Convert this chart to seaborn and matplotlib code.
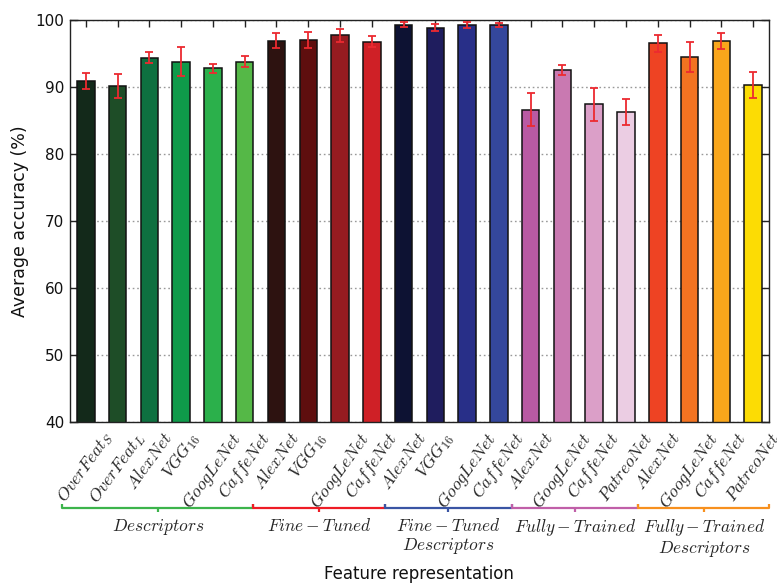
import matplotlib
matplotlib.use("Agg")
import matplotlib.pyplot as plt
import matplotlib.transforms as mtransforms
import numpy as np
import pandas as pd
import seaborn as sns

# Feature representations, in plotting order
labels = ["OverFeat_S", "OverFeat_L", "AlexNet", "VGG_{16}", "GoogLeNet", "CaffeNet",
          "AlexNet", "VGG_{16}", "GoogLeNet", "CaffeNet",
          "AlexNet", "VGG_{16}", "GoogLeNet", "CaffeNet",
          "AlexNet", "GoogLeNet", "CaffeNet", "PatreoNet",
          "AlexNet", "GoogLeNet", "CaffeNet", "PatreoNet"]

accuracy = [90.9, 90.1, 94.4, 93.8, 92.8, 93.8,
            96.9, 97.0, 97.7, 96.75,
            99.3, 98.85, 99.3, 99.25,
            86.6, 92.55, 87.4, 86.3,
            96.5, 94.5, 96.9, 90.3]

std_dev = [1.2, 1.8, 0.85, 2.1, 0.65, 0.85,
           1.1, 1.25, 1.0, 0.85,
           0.4, 0.5, 0.45, 0.3,
           2.45, 0.75, 2.5, 1.95,
           1.3, 2.2, 1.2, 1.9]

bar_colors = ["#13291a", "#1e4d27", "#0e7040", "#0f9a4a", "#2bb04b", "#55b847",
              "#2d1210", "#5e0e0e", "#961b20", "#cf2026",
              "#0d1233", "#1f1d5e", "#282f88", "#34479c",
              "#b95aa3", "#c979b1", "#db9fc8", "#ebcde3",
              "#ee4323", "#f37321", "#f9a61b", "#fcdc04"]

group_names = ["$Descriptors$", "$Fine-Tuned$", "$Fine-Tuned$\n$Descriptors$",
               "$Fully-Trained$", "$Fully-Trained$\n$Descriptors$"]
group_colors = ["#3cb44b", "#ee1c25", "#3a55a4", "#c05fa8", "#f7901e"]

sns.set_theme(style="white")
plt.rcParams["font.family"] = ["DejaVu Sans"]
plt.rcParams["mathtext.fontset"] = "cm"

df = pd.DataFrame({"key": [f"b{i}" for i in range(len(labels))],
                   "accuracy": accuracy})

fig = plt.figure(figsize=(7.77, 5.85), dpi=100)
ax = fig.add_axes([0.090, 0.2786, 0.8997, 0.6872])

sns.barplot(data=df, x="key", y="accuracy", hue="key", palette=bar_colors,
            saturation=1, legend=False, width=0.55, edgecolor="#111111",
            linewidth=1.1, errorbar=None, ax=ax, zorder=2)

centers = [p.get_x() + p.get_width() / 2 for p in ax.patches]
ax.errorbar(centers, accuracy, yerr=std_dev, fmt="none", ecolor="#ec2a30",
            elinewidth=1.3, capsize=3, capthick=1.3, zorder=3)

ax.set_ylim(40, 100)
ax.set_xlim(-0.5, len(labels) - 0.5)
ax.set_yticks(np.arange(40, 101, 10))
ax.yaxis.grid(True, linestyle=(0, (1.2, 2.0)), color="#999999", linewidth=1.0, zorder=0)
ax.xaxis.grid(False)
ax.set_axisbelow(True)

for side in ["left", "right", "top", "bottom"]:
    ax.spines[side].set_visible(True)
    ax.spines[side].set_color("#222222")
    ax.spines[side].set_linewidth(1.0)

ax.set_xticks(range(len(labels)))
ax.set_xticklabels([f"${t}$" for t in labels], rotation=54, ha="center", fontsize=12.5)
ax.tick_params(axis="x", top=True, bottom=False, direction="in", length=5,
               width=1, color="#222222", pad=5)
ax.tick_params(axis="y", left=True, right=True, direction="in", length=6,
               width=1, color="#222222", labelsize=11, pad=4, labelcolor="#111111")

ax.set_ylabel("Average accuracy (%)", fontsize=12.5, color="#111111", labelpad=4.5)
ax.set_xlabel("")
fig.text(0.539, 0.003, "Feature representation", ha="center", va="bottom",
         fontsize=12, color="#111111")

# Group brackets under the tick labels
trans = mtransforms.blended_transform_factory(ax.transData, ax.transAxes)
spans = [(-0.735, 5.26), (5.26, 9.41), (9.41, 13.4), (13.4, 17.39), (17.39, 21.5)]
y_line, y_end, y_mid = -0.214, -0.204, -0.224
for (x0, x1), name, col in zip(spans, group_names, group_colors):
    xm = (x0 + x1) / 2
    ax.plot([x0, x0, x1, x1], [y_end, y_line, y_line, y_end], color=col, lw=1.6,
            transform=trans, clip_on=False, solid_capstyle="butt")
    ax.plot([xm, xm], [y_line, y_mid], color=col, lw=1.6, transform=trans,
            clip_on=False, solid_capstyle="butt")
    ax.text(xm, -0.236, name, transform=trans, ha="center", va="top",
            fontsize=12.5, linespacing=1.1)

fig.savefig("out.png", dpi=100, facecolor="white")
